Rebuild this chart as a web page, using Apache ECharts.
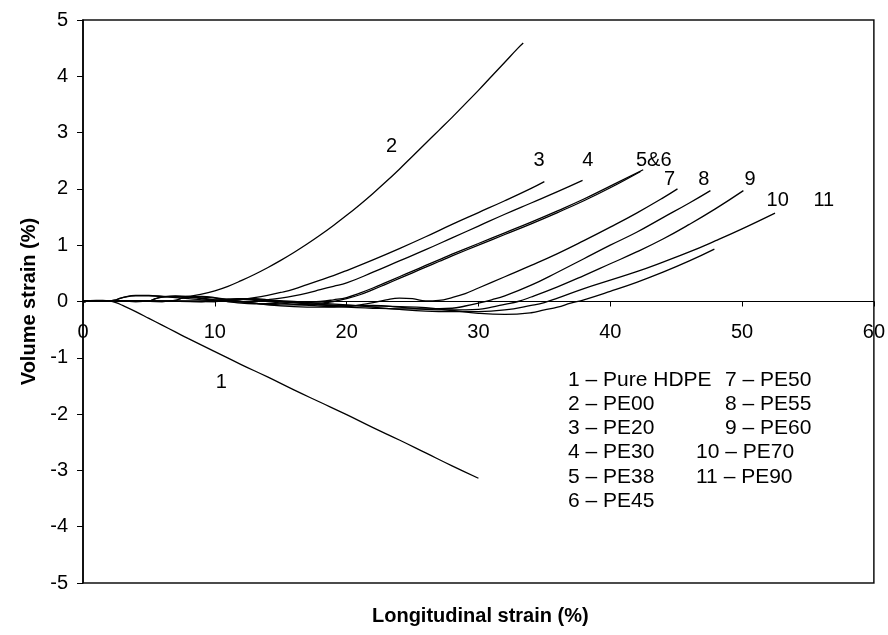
<!DOCTYPE html>
<html>
<head>
<meta charset="utf-8">
<script src="https://cdn.jsdelivr.net/npm/echarts@6/dist/echarts.min.js"></script>
<style>
  html, body { margin: 0; padding: 0; background: #fff; }
  #chart { width: 888px; height: 635px; }
</style>
</head>
<body>
<div id="chart"></div>
<script>
// Volume strain vs longitudinal strain, [longitudinal %, volume %]
const pureHDPE = [[0,0],[1,0.02],[1.5,0.02],[2,0.01],[2.5,-0.02],[3,-0.07],[4,-0.18],[5,-0.3],[6,-0.42],[7,-0.54],[8,-0.66],[10,-0.89],[12,-1.12],[14,-1.34],[16,-1.57],[18,-1.79],[20,-2.01],[22,-2.24],[24,-2.46],[26,-2.69],[28,-2.92],[30,-3.14]];
const pe00 = [[0,0],[1,0.01],[2,0.01],[2.5,0.03],[3,0.07],[4,0.11],[5,0.11],[6,0.09],[7,0.08],[8,0.09],[9,0.13],[10,0.19],[11,0.27],[12,0.37],[13,0.48],[14,0.6],[15,0.73],[16,0.87],[17,1.02],[18,1.18],[19,1.35],[20,1.53],[21,1.72],[22,1.92],[23,2.13],[24,2.35],[25,2.58],[26,2.81],[27,3.04],[28,3.27],[29,3.51],[30,3.75],[31,4.0],[32,4.25],[33,4.5],[33.4,4.59]];
const pe20 = [[0,0],[1,0.01],[2,0.01],[2.5,0.03],[3,0.07],[4,0.1],[5,0.1],[6,0.09],[7,0.07],[8,0.05],[9,0.03],[10,0.02],[11,0.02],[12,0.04],[13,0.07],[14,0.11],[15,0.16],[16,0.22],[17,0.3],[18,0.38],[19,0.46],[20,0.55],[22,0.74],[24,0.94],[26,1.15],[28,1.37],[30,1.58],[32,1.79],[34,2.01],[35,2.13]];
const pe30 = [[0,0],[1,0.01],[2,0.01],[4,0],[5,0.01],[5.5,0.05],[6,0.08],[7,0.1],[8,0.09],[9,0.06],[10,0.03],[11,0],[12,-0.01],[13,0],[14,0.03],[15,0.06],[16,0.1],[17,0.15],[18,0.21],[19,0.27],[20,0.33],[22,0.52],[24,0.72],[26,0.92],[28,1.13],[30,1.34],[32,1.55],[34,1.75],[36,1.95],[37.9,2.15]];
const pe38 = [[0,0],[1,0.01],[2,0.01],[4,0],[5,0.01],[5.5,0.05],[6,0.08],[7,0.09],[8,0.08],[9,0.05],[10,0.02],[11,0],[12,-0.03],[13,-0.04],[14,-0.04],[15,-0.03],[16,-0.02],[17,-0.01],[18,0],[19,0.03],[20,0.07],[21,0.15],[22,0.24],[23,0.34],[24,0.44],[25,0.54],[26,0.64],[27,0.74],[28,0.84],[30,1.03],[32,1.22],[34,1.41],[36,1.61],[38,1.82],[40,2.05],[42.5,2.34]];
const pe45 = [[0,0],[1,0.01],[2,0.01],[6,0],[7,0.02],[7.5,0.06],[8,0.08],[9,0.09],[10,0.07],[11,0.03],[12,0],[13,-0.03],[14,-0.05],[15,-0.06],[16,-0.06],[17,-0.05],[18,-0.03],[19,0],[20,0.05],[21,0.12],[22,0.21],[23,0.31],[24,0.41],[25,0.51],[26,0.61],[27,0.71],[28,0.81],[30,1.0],[32,1.19],[34,1.38],[36,1.58],[38,1.79],[40,2.02],[42.3,2.31]];
const pe50 = [[0,0],[1,0.01],[2,0.01],[6,0],[7,0.02],[7.5,0.06],[8,0.08],[9,0.08],[10,0.06],[11,0.03],[12,0],[13,-0.03],[14,-0.06],[16,-0.09],[18,-0.1],[20,-0.09],[21,-0.06],[22,-0.02],[23,0.03],[24,0.06],[25,0.05],[26,0.01],[27,0.02],[28,0.07],[29,0.14],[30,0.24],[32,0.44],[34,0.64],[36,0.85],[38,1.08],[40,1.32],[42,1.57],[44,1.84],[45.1,2.0]];
const pe55 = [[0,0],[1,0.01],[2,0.01],[9,0],[10,0.02],[11,0.04],[12,0.04],[13,0.02],[14,0],[16,-0.05],[18,-0.08],[20,-0.1],[22,-0.12],[24,-0.13],[26,-0.13],[28,-0.12],[29,-0.08],[30,-0.03],[31,0.03],[32,0.1],[34,0.29],[36,0.52],[38,0.76],[40,1.0],[42,1.23],[44,1.49],[46,1.75],[47.6,1.97]];
const pe60 = [[0,0],[1,0.01],[2,0.01],[9,0],[10,0.02],[11,0.04],[12,0.05],[13,0.04],[14,0.02],[16,-0.02],[18,-0.06],[20,-0.08],[22,-0.07],[24,-0.1],[26,-0.14],[28,-0.15],[30,-0.14],[31,-0.1],[32,-0.05],[33,0],[34,0.08],[36,0.26],[38,0.46],[40,0.67],[42,0.88],[44,1.11],[46,1.37],[48,1.65],[50.1,1.97]];
const pe70 = [[0,0],[1,0.01],[2,0.01],[10,0],[11,0.03],[12,0.05],[13,0.05],[14,0.03],[16,0],[18,-0.03],[20,-0.06],[22,-0.1],[24,-0.14],[26,-0.17],[28,-0.18],[30,-0.18],[32,-0.15],[34,-0.07],[35,-0.02],[36,0.06],[38,0.23],[40,0.38],[42,0.53],[44,0.7],[46,0.88],[48,1.08],[50,1.29],[52.5,1.57]];
const pe90 = [[0,0],[1,0.01],[2,0.01],[10,0],[11,0.02],[12,0.04],[13,0.04],[14,0.02],[16,-0.02],[18,-0.05],[20,-0.07],[22,-0.08],[24,-0.09],[26,-0.11],[28,-0.16],[30,-0.21],[32,-0.23],[34,-0.2],[35,-0.15],[36,-0.1],[37,-0.03],[38,0.03],[40,0.18],[42,0.34],[44,0.52],[46,0.72],[47.9,0.93]];

const curves = [pureHDPE, pe00, pe20, pe30, pe38, pe45, pe50, pe55, pe60, pe70, pe90];

// Curve number tags placed in data coordinates: [text, x, y]
const curveTags = [['1',10.5,-1.43],['2',23.4,2.76],['3',34.6,2.51],['4',38.3,2.51],['5&6',43.3,2.51],['7',44.5,2.16],['8',47.1,2.16],['9',50.6,2.16],['10',52.7,1.79],['11',56.2,1.79]];

// Key text, two columns
const keyLeft = ['1 \u2013 Pure HDPE','2 \u2013 PE00','3 \u2013 PE20','4 \u2013 PE30','5 \u2013 PE38','6 \u2013 PE45'];
const keyRight = ['7 \u2013 PE50','8 \u2013 PE55','9 \u2013 PE60','10 \u2013 PE70','11 \u2013 PE90'];

const xTicks = { min: 0, max: 60, interval: 10 };
const yTicks = { min: -5, max: 5, interval: 1 };

const FONT = '"Liberation Sans", Arial, Helvetica, sans-serif';

// plot box in pixels
const GRID = { left: 83, top: 20, width: 795, height: 563 };
// the x axis sits on the zero line, i.e. half way down the box
const xAxisOffset = -GRID.height * (0 - yTicks.min) / (yTicks.max - yTicks.min);

const chart = echarts.init(document.getElementById('chart'), null, { renderer: 'canvas' });

const lineSeries = curves.map(function (pts) {
  return {
    type: 'line',
    data: pts,
    showSymbol: false,
    smooth: 0.45,
    lineStyle: { color: '#000', width: 1.3 },
    silent: true,
    z: 3
  };
});

const tagSeries = {
  type: 'scatter',
  symbolSize: 0,
  silent: true,
  itemStyle: { color: '#000', opacity: 1 },
  data: curveTags.map(function (t) { return { value: [t[1], t[2]], name: t[0] }; }),
  label: {
    show: true,
    position: 'inside',
    formatter: '{b}',
    color: '#000',
    opacity: 1,
    textBorderColor: 'transparent',
    textBorderWidth: 0,
    fontSize: 20,
    fontFamily: FONT
  },
  z: 5
};

const keyRowsY = [382, 406, 430, 454, 479, 503];
const keyRightX = [725, 725, 725, 696, 696];
const KEY_FONT = '21px ' + FONT;
const graphics = [];
keyLeft.forEach(function (s, i) {
  graphics.push({ type: 'text', left: 568, top: keyRowsY[i] - 12, style: { text: s, fill: '#000', font: KEY_FONT } });
});
keyRight.forEach(function (s, i) {
  graphics.push({ type: 'text', left: keyRightX[i], top: keyRowsY[i] - 12, style: { text: s, fill: '#000', font: KEY_FONT } });
});
graphics.push({
  type: 'text', left: 372, top: 606,
  style: { text: 'Longitudinal strain (%)', fill: '#000', font: 'bold 20px ' + FONT }
});

chart.setOption({
  animation: false,
  backgroundColor: '#fff',
  grid: {
    left: GRID.left, top: GRID.top, width: GRID.width, height: GRID.height,
    show: true, borderColor: '#111', borderWidth: 1.5, backgroundColor: 'transparent'
  },
  xAxis: {
    type: 'value',
    position: 'bottom',
    offset: xAxisOffset,
    min: xTicks.min, max: xTicks.max, interval: xTicks.interval,
    axisLine: { show: true, onZero: false, lineStyle: { color: '#000', width: 1.2 } },
    axisTick: { show: true, length: 5, lineStyle: { color: '#000' } },
    axisLabel: { color: '#000', fontSize: 20, fontFamily: FONT, margin: 21, showMinLabel: true, showMaxLabel: true },
    splitLine: { show: false }
  },
  yAxis: {
    type: 'value',
    min: yTicks.min, max: yTicks.max, interval: yTicks.interval,
    axisLine: { show: true, onZero: false, lineStyle: { color: '#000', width: 1.5 } },
    axisTick: { show: true, length: 6, lineStyle: { color: '#000' } },
    axisLabel: { color: '#000', fontSize: 20, fontFamily: FONT, margin: 15, showMinLabel: true, showMaxLabel: true },
    splitLine: { show: false },
    name: 'Volume strain (%)',
    nameLocation: 'middle',
    nameGap: 43,
    nameTextStyle: { color: '#000', fontSize: 20, fontWeight: 'bold', fontFamily: FONT }
  },
  series: lineSeries.concat([tagSeries]),
  graphic: graphics
});
</script>
</body>
</html>
